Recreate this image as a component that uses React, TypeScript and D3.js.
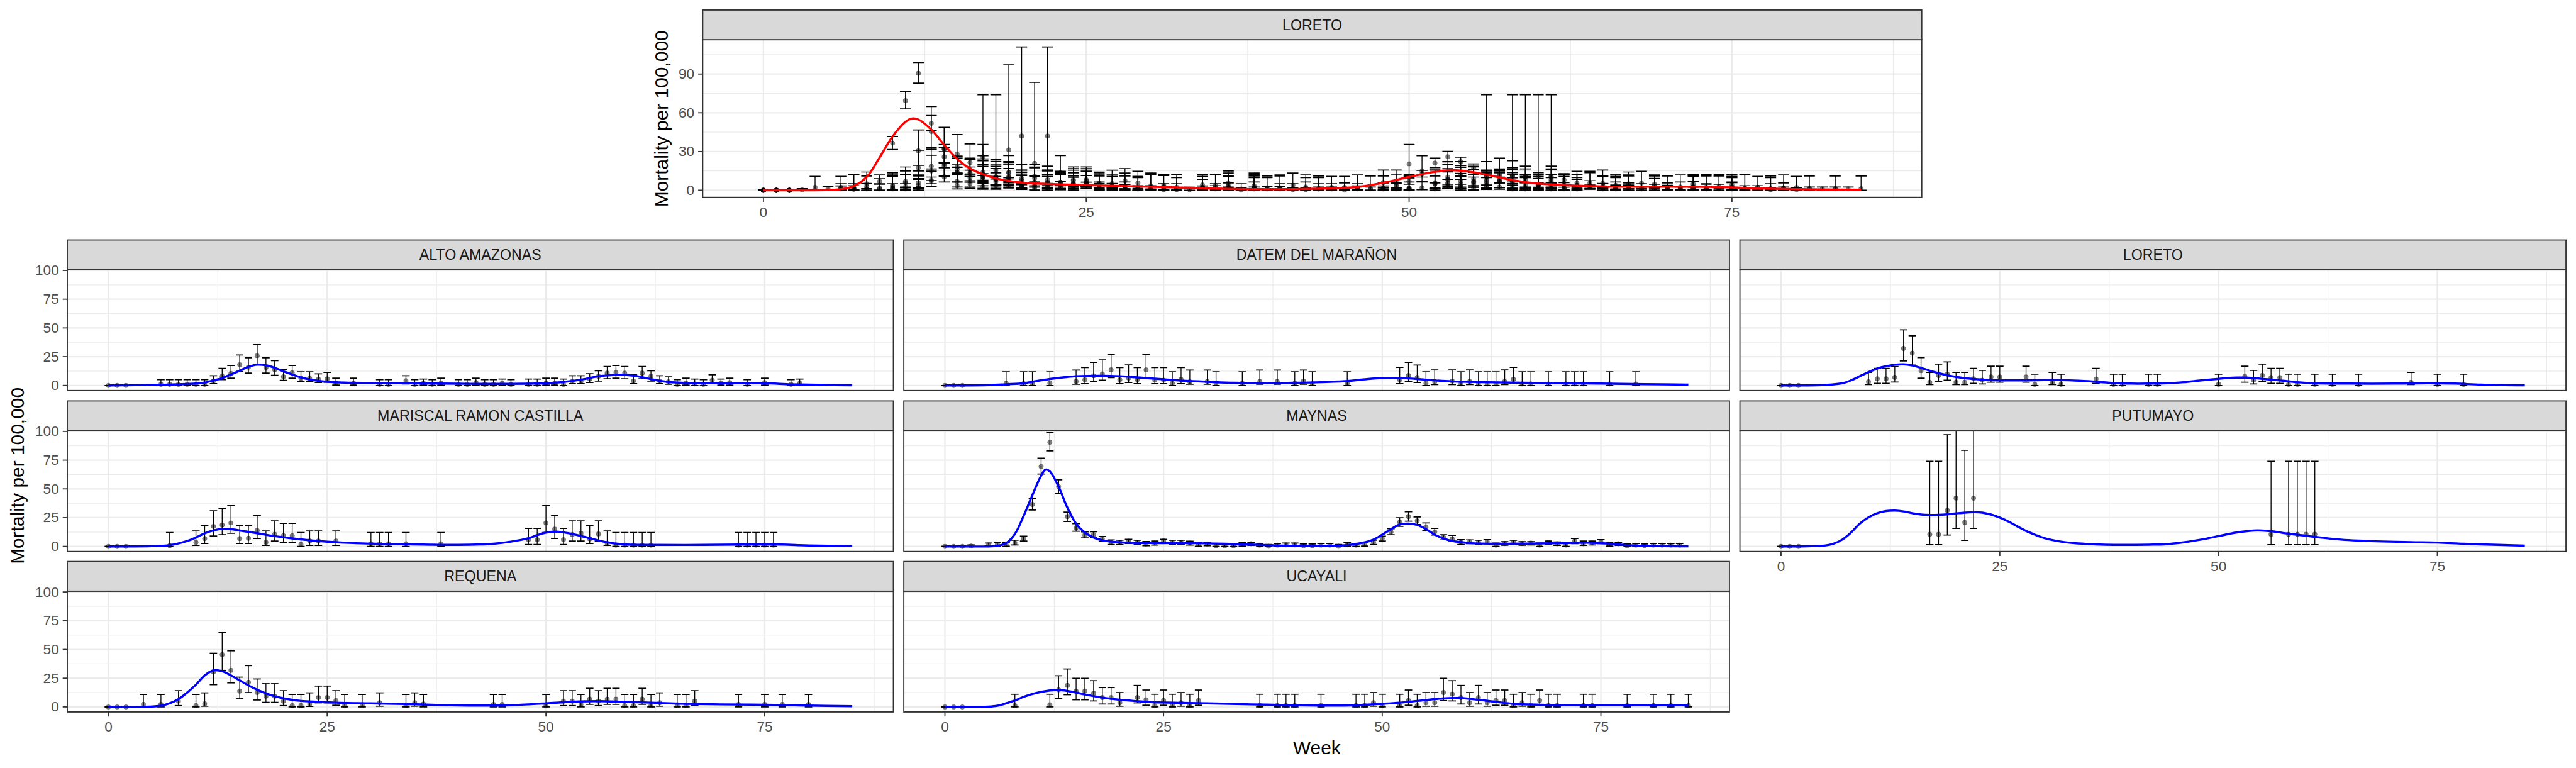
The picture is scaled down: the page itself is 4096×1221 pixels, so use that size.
import React from "react";
import * as d3 from "d3";

// [week, estimate, lower, upper]
type Pt = [number, number, number, number];
// [week, fitted]
type Fit = [number, number];

const altoAmazonasPts: Pt[] = [
  [0, 0, 0, 0], [1, 0, 0, 0], [2, 0, 0, 0],
  [6, 1, 0, 5], [7, 1, 0, 5], [8, 1, 0, 5], [9, 1, 0, 5], [10, 1, 0, 5], [11, 1, 0, 5],
  [12, 3.8, 1.6, 8.4], [13, 8, 5, 14.8], [14, 10.4, 6.4, 17.3], [15, 18, 12.2, 26.5],
  [16, 15.9, 10.7, 24], [17, 25.8, 18.5, 35.5], [18, 15.6, 10.7, 24], [19, 13.7, 8.8, 21.6],
  [20, 7.6, 4.4, 13.7], [21, 11, 6.4, 17.3], [22, 6.2, 3.4, 11.9], [23, 6.2, 3.4, 11.9],
  [24, 5.3, 2.5, 10], [25, 5.8, 2.8, 11.3], [26, 1.9, 0.4, 6.4], [28, 1.9, 0.4, 6.4],
  [31, 1, 0, 5], [32, 1, 0, 5], [34, 4.1, 1.3, 8.4], [35, 1, 0, 5], [36, 1.9, 0.4, 5.6],
  [37, 1, 0, 5], [38, 1.9, 0.4, 6.4], [40, 1, 0, 5], [41, 1, 0, 5], [42, 2.5, 0.4, 6.4],
  [43, 1, 0, 5], [44, 1, 0, 5], [45, 1.9, 0.4, 5.6], [46, 1, 0, 5], [48, 1, 0, 5.6],
  [49, 1, 0, 5.6], [50, 1.9, 0.4, 6.4], [51, 1.9, 0.4, 6.4], [52, 1, 0, 5.6],
  [53, 3.4, 1.6, 8.4], [54, 3.4, 1.6, 8.4], [55, 5.6, 2.5, 10.2], [56, 8, 3.8, 12.8],
  [57, 10.7, 5.8, 16.5], [58, 11.3, 6.4, 17.3], [59, 10.7, 5.8, 16.5], [60, 3.8, 1.6, 9.2],
  [61, 10.7, 5.8, 16.5], [62, 8, 3.8, 12.8], [63, 3.8, 1.6, 8.4], [64, 3.2, 1, 7.4],
  [65, 1, 0, 5], [66, 1.9, 0.4, 6.4], [67, 1.3, 0, 5.6], [68, 1, 0, 5], [69, 4.6, 1.9, 9.2],
  [70, 1.9, 0.4, 5.6], [71, 2.5, 0.4, 6.4], [73, 1, 0, 5], [75, 2.5, 0.4, 6.4],
  [78, 1, 0, 5], [79, 1.9, 0.4, 5.6],
];
const altoAmazonasFit: Fit[] = [
  [0, 0], [6, 0.5], [8, 1], [10, 1.7], [11, 2.5], [12, 4.4], [13, 6.4], [14, 9.5], [15, 12.8],
  [16, 16.2], [17, 18], [18, 17.5], [19, 15.3], [20, 12.2], [21, 9.5], [22, 7], [23, 5.2],
  [24, 4], [25, 3.2], [27, 2.5], [30, 2.2], [35, 1.9], [40, 1.5], [45, 1.4], [50, 1.9],
  [52, 3], [54, 5], [56, 8], [57, 8.7], [58, 9.2], [59, 9.2], [60, 8.5], [61, 7.2], [62, 5.5],
  [63, 4], [64, 3], [66, 2.2], [70, 1.9], [75, 1.9], [78, 1], [82, 0.4], [85, 0.1],
];

const datemPts: Pt[] = [
  [0, 0, 0, 0], [1, 0, 0, 0], [2, 0, 0, 0], [7, 1.9, 0, 11.9], [9, 1.6, 0, 11.9],
  [10, 1.6, 0, 11.9], [12, 1.9, 0, 11.9], [15, 3.4, 1, 13.3], [16, 5, 1.6, 15.5],
  [17, 8.4, 3.4, 20.1], [18, 10, 4.6, 22.3], [19, 13.5, 6.8, 26.8], [20, 5, 1.6, 15.5],
  [21, 6.4, 2.5, 17.9], [22, 5, 1.6, 15.5], [23, 13.5, 6.8, 26.8], [24, 4.6, 1.6, 15.5],
  [25, 4.6, 1.6, 15.5], [26, 1.9, 0, 11.9], [27, 5.2, 1.6, 15.5], [28, 3.2, 1, 13.3],
  [30, 3.4, 1, 13.3], [31, 1.9, 0, 11.9], [34, 1.9, 0, 11.9], [36, 3.4, 1, 13.3],
  [38, 3.4, 1, 13.3], [40, 1.9, 0, 11.9], [41, 3.8, 1, 13.3], [42, 1.6, 0, 11.9],
  [46, 1.9, 0, 11.9], [52, 5, 1.6, 15.6], [53, 8.6, 3.5, 20.1], [54, 7, 2.5, 17.7],
  [55, 1.9, 0, 11.9], [56, 3.2, 0.7, 13.5], [58, 3.8, 0.7, 13.5], [59, 1.3, 0, 11.9],
  [60, 3.4, 0.7, 13.5], [61, 1.3, 0, 11.9], [62, 1.3, 0, 11.9], [63, 1.3, 0, 11.9],
  [64, 3.4, 0.7, 13.5], [65, 5.3, 1.6, 15.6], [66, 1.3, 0, 11.9], [67, 1.3, 0, 11.9],
  [69, 1.3, 0, 11.9], [71, 1.3, 0, 11.9], [72, 1.3, 0, 11.9], [73, 1.3, 0, 11.9],
  [76, 1.3, 0, 11.9], [79, 1.3, 0, 11.9],
];
const datemFit: Fit[] = [
  [0, 0], [5, 0.3], [7, 1], [9, 1.9], [10, 3.2], [12, 5.6], [14, 7.4], [15, 8], [18, 8.4],
  [20, 8], [22, 7], [25, 5.3], [28, 3.8], [30, 3.2], [33, 2.3], [38, 2.2], [40, 2.3],
  [43, 2.8], [46, 3.8], [48, 5.3], [50, 6.4], [52, 6.5], [54, 5.6], [56, 4.4], [58, 3.5],
  [62, 2.8], [66, 2.4], [70, 1.9], [75, 1.6], [80, 1.1], [85, 0.7],
];

const loretoPts: Pt[] = [
  [0, 0, 0, 0], [1, 0, 0, 0], [2, 0, 0, 0], [10, 3.2, 0.7, 11.3], [11, 5.8, 1.9, 14.9],
  [12, 5.8, 1.9, 14.9], [13, 7, 2.9, 16.5], [14, 32.2, 21.3, 48.4], [15, 28, 17.7, 43.2],
  [16, 12.8, 6.4, 24.1], [17, 2.8, 0.7, 11.3], [18, 8.6, 3.6, 18.5], [19, 9.8, 4.6, 20.4],
  [20, 2.8, 0.7, 11.3], [21, 2.8, 0.7, 11.3], [22, 5.8, 1.9, 14.9], [23, 4.6, 1.3, 13.1],
  [24, 7.4, 2.8, 16.7], [25, 7.4, 2.8, 16.7], [28, 7.4, 2.8, 16.7], [29, 1, 0, 9.8],
  [31, 2.8, 0.7, 11.3], [32, 1, 0, 9.8], [36, 5.6, 1.9, 14.9], [38, 1, 0, 9.8],
  [39, 1, 0, 9.8], [42, 1, 0, 9.8], [43, 1, 0, 9.8], [50, 1, 0, 9.8], [53, 8, 2.8, 16.7],
  [54, 4.6, 1.3, 13.1], [55, 8.8, 3.6, 18.5], [56, 6.8, 1.9, 14.9], [57, 6.8, 1.9, 14.9],
  [58, 1, 0, 9.8], [59, 1, 0, 9.8], [61, 1, 0, 9.8], [63, 1, 0, 9.8], [66, 1, 0, 9.8],
  [72, 2.8, 0.7, 11.3], [75, 1, 0, 9.8], [78, 1, 0, 9.8],
];
const loretoFit: Fit[] = [
  [0, 0], [5, 0.4], [7, 1.9], [8, 4.4], [9, 8], [10, 11.6], [11, 14.7], [12, 16.7], [13, 18],
  [14, 18.3], [15, 17.3], [16, 15.3], [17, 12.8], [18, 10.7], [20, 7.4], [22, 5.6], [24, 4.6],
  [26, 4.4], [28, 4.4], [30, 4.6], [32, 4.6], [34, 4.1], [36, 3.2], [38, 2.2], [40, 1.6],
  [42, 1.6], [44, 1.9], [46, 2.8], [48, 4.4], [50, 5.8], [52, 6.8], [53, 6.8], [55, 5.8],
  [57, 4.4], [59, 2.8], [61, 1.9], [65, 1.6], [70, 1.6], [74, 1.9], [77, 1.6], [80, 0.7],
  [85, 0.1],
];

const mariscalPts: Pt[] = [
  [0, 0, 0, 0], [1, 0, 0, 0], [2, 0, 0, 0], [7, 0.7, 0, 12], [10, 3.5, 0.8, 13.4],
  [11, 6.8, 2.5, 18], [12, 17.4, 9, 31], [13, 18.6, 10.2, 33.1], [14, 20.4, 11.4, 35.5],
  [15, 6.8, 2.5, 18], [16, 7.1, 2.5, 18], [17, 13.8, 6.8, 26.7], [18, 3.5, 0.8, 13.4],
  [19, 10.5, 4.7, 22.2], [20, 9.2, 3.5, 20], [21, 9.2, 3.5, 20], [22, 1.7, 0, 12],
  [23, 4.7, 0.8, 13.4], [24, 4.7, 0.8, 13.4], [26, 4.7, 0.8, 13.4], [30, 2.3, 0, 12],
  [31, 2.3, 0, 12], [32, 2.3, 0, 12], [34, 2.3, 0, 12], [38, 2.3, 0, 12],
  [48, 5.9, 1.7, 15.6], [49, 5.9, 1.7, 15.6], [50, 20.4, 12, 35.5], [51, 15, 6.8, 26.7],
  [52, 5.9, 1.7, 15.6], [53, 10.2, 4.7, 22.2], [54, 11.4, 4.7, 22.2], [55, 6.5, 2.5, 18],
  [56, 10.8, 4.7, 22.2], [57, 2.5, 0.8, 13.4], [58, 1.1, 0, 12], [59, 1.1, 0, 12],
  [60, 1.1, 0, 12], [61, 1.1, 0, 12], [62, 1.1, 0, 12], [72, 1.1, 0, 12], [73, 1.1, 0, 12],
  [74, 1.1, 0, 12], [75, 1.1, 0, 12], [76, 1.1, 0, 12],
];
const mariscalFit: Fit[] = [
  [0, 0], [5, 0.2], [7, 1.1], [9, 4.7], [10, 7.7], [11, 11.4], [12, 13.8], [13, 15.2],
  [14, 15], [15, 13.8], [17, 11.4], [19, 8.9], [21, 6.9], [23, 5.3], [25, 4.1], [28, 2.9],
  [32, 2.1], [36, 1.6], [40, 1.3], [44, 2.3], [46, 4.1], [48, 7.1], [49, 9.8], [50, 12],
  [51, 12.8], [52, 12.2], [53, 10.8], [55, 7.1], [57, 3.5], [59, 1.7], [62, 1.3], [68, 1.3],
  [74, 1.7], [77, 1.6], [80, 0.8], [85, 0.2],
];

const maynasPts: Pt[] = [
  [0, 0, 0, 0], [1, 0, 0, 0], [2, 0, 0, 0], [3, 0.3, 0, 1.2], [5, 1.3, 0.5, 2.9],
  [6, 1.7, 0.1, 3.3], [7, 1.3, 0.1, 3.5], [8, 2.9, 1.3, 5.3], [9, 6.8, 4.7, 8.9],
  [10, 36.5, 31.6, 41.6], [11, 69.4, 63, 76.7], [12, 90.6, 83, 98.9], [13, 51.9, 46.1, 57.9],
  [14, 25.9, 21.6, 29.9], [15, 16.2, 13.2, 19.7], [16, 9.8, 7.4, 12.6], [17, 10.2, 7.7, 12.8],
  [18, 6.5, 4.4, 8.7], [19, 3.5, 1.7, 5.7], [20, 3.5, 1.7, 5.3], [21, 4.5, 2.5, 6.2],
  [22, 3.5, 1.7, 5.3], [23, 2.1, 0.5, 4.2], [24, 2.9, 1.1, 4.7], [25, 4.7, 2.9, 6.2],
  [26, 3.5, 1.7, 5.3], [27, 3.5, 1.7, 5.3], [28, 2.9, 1.1, 4.5], [29, 1.7, 0.1, 3.5],
  [30, 2.1, 0.5, 3.5], [31, 0.5, 0, 2.3], [32, 0.5, 0, 2.1], [33, 0.5, 0, 2.3],
  [34, 1.7, 0.3, 3.3], [35, 2.3, 0.8, 3.5], [36, 1.1, 0, 2.5], [37, 0.1, 0, 1.7],
  [38, 1.1, 0, 2.5], [39, 1.3, 0, 2.9], [40, 1.3, 0, 2.9], [41, 0.5, 0, 2.1], [42, 0.5, 0, 2.1],
  [43, 1.1, 0, 2.5], [44, 1.1, 0, 2.5], [45, 0.1, 0, 1.7], [46, 1.7, 0.3, 3.3],
  [47, 1.1, 0, 2.5], [48, 1.7, 0.3, 3.3], [49, 3.5, 1.7, 5.3], [50, 6.8, 4.7, 8.9],
  [51, 12.6, 10.2, 15.4], [52, 21, 17.4, 24.9], [53, 25.9, 21.9, 30.1], [54, 22.2, 19, 25.6],
  [55, 17, 13.8, 20.4], [56, 12.6, 9.8, 15.6], [57, 8, 5.7, 10.2], [58, 6.5, 4.1, 9.6],
  [59, 3.5, 1.7, 5.9], [60, 4.1, 2.3, 5.7], [61, 3.5, 1.7, 5.3], [62, 4.1, 2.3, 5.9],
  [63, 1.1, 0, 2.9], [64, 2.5, 1, 4.1], [65, 3.5, 1.7, 5.3], [66, 2.5, 1, 4.1],
  [67, 2.9, 1.3, 4.1], [68, 1.1, 0, 2.9], [69, 3.5, 1.7, 4.7], [70, 2.3, 0.8, 3.8],
  [71, 1.1, 0, 2.5], [72, 4.7, 2.3, 6.8], [73, 2.3, 0.8, 4.7], [74, 2.9, 1.3, 4.7],
  [75, 4.1, 2.3, 5.9], [76, 1.7, 0.3, 3.5], [77, 2.3, 0.8, 3.5], [78, 0.5, 0, 2.1],
  [79, 1.1, 0, 2.5], [80, 0.5, 0, 2.1], [81, 1.1, 0, 2.5], [82, 1.1, 0, 2.5],
  [83, 1.1, 0, 2.5], [84, 1.1, 0, 2.5],
];
const maynasFit: Fit[] = [
  [0, 0], [5, 0], [6, 0.5], [7, 2.9], [8, 10.8], [9, 26.5], [10, 44.6], [11, 61.5],
  [11.5, 66.7], [12, 65.2], [13, 51.9], [14, 33.7], [15, 19.8], [16, 12], [17, 7.7],
  [18, 5.3], [20, 3.5], [24, 2.9], [28, 2.9], [32, 2.3], [36, 1.3], [40, 0.5], [44, 0.5],
  [46, 1.1], [48, 3.5], [49, 5.9], [50, 10.2], [51, 15], [52, 19], [53, 19.8], [54, 18.6],
  [55, 15], [56, 10.2], [57, 6.9], [58, 4.7], [60, 2.9], [64, 2.3], [68, 2.5], [72, 3.1],
  [74, 3.1], [76, 2.3], [78, 1.1], [80, 0.5], [85, 0.1],
];

const putumayoPts: Pt[] = [
  [0, 0, 0, 0], [1, 0, 0, 0], [2, 0, 0, 0], [17, 10.5, 1.5, 74], [18, 10.5, 1.5, 74],
  [19, 31.3, 9.9, 97.1], [20, 42, 15.6, 111], [21, 20.8, 5.2, 83.6], [22, 42, 15.6, 111],
  [56, 10.5, 1.5, 74], [58, 10.5, 1.5, 74], [59, 10.5, 1.5, 74], [60, 10.5, 1.5, 74],
  [61, 10.5, 1.5, 74],
];
const putumayoFit: Fit[] = [
  [0, 0], [3, 0.1], [5, 0.7], [6, 2.3], [7, 5.9], [8, 12], [9, 19.8], [10, 25.3], [11, 28.9],
  [12, 30.7], [13, 31.1], [14, 30.4], [15, 28.9], [16, 27.7], [17, 27.3], [18, 27.4],
  [19, 27.9], [20, 28.7], [21, 29.4], [22, 29.7], [23, 29.4], [24, 27.7], [25, 25],
  [26, 21.6], [27, 17.4], [28, 13.4], [29, 10.2], [30, 7.4], [32, 4.1], [34, 2.5], [36, 1.7],
  [38, 1.3], [40, 1.3], [42, 1.5], [44, 1.9], [46, 3.5], [48, 5.9], [50, 8.9], [52, 12],
  [54, 13.8], [55, 13.8], [56, 13.2], [58, 11], [60, 9.2], [62, 7.4], [64, 5.9], [66, 5],
  [68, 4.4], [72, 3.7], [75, 3.3], [78, 2.3], [82, 1.3], [85, 0.6],
];

const requenaPts: Pt[] = [
  [0, 0, 0, 0], [1, 0, 0, 0], [2, 0, 0, 0], [4, 2.2, 0, 10.8], [6, 2.2, 0, 10.8],
  [8, 5, 1.2, 14.1], [10, 1.2, 0, 10.8], [11, 2.7, 0.6, 12.2], [12, 30.5, 19.3, 46.7],
  [13, 45.5, 31.8, 64.8], [14, 31.8, 20.9, 48.8], [15, 13.7, 7.1, 25.9], [16, 21.4, 12.5, 35.9],
  [17, 12.5, 6, 24.3], [18, 9.3, 4, 20.2], [19, 9.3, 4, 20.2], [20, 5, 1.2, 14.1],
  [21, 1.2, 0, 10.8], [22, 1.2, 0, 10.8], [23, 2.5, 0.4, 12.2], [24, 8.1, 3.5, 18.1],
  [25, 8.1, 3.5, 18.1], [26, 5.6, 1.5, 14.1], [27, 1.2, 0, 10.8], [29, 1.2, 0, 10.8],
  [31, 3.7, 0.6, 12.2], [34, 1.2, 0, 10.8], [35, 3.7, 0.6, 12.2], [36, 2.5, 0, 10.8],
  [44, 2.2, 0, 10.8], [45, 2.2, 0, 10.8], [50, 1.2, 0, 10.8], [52, 5, 1.2, 14.1],
  [53, 5, 1.2, 14.1], [54, 2.2, 0, 10.8], [55, 6.8, 2.2, 16.2], [56, 5, 1.2, 14.1],
  [57, 6.8, 2.2, 16.2], [58, 6.8, 2.2, 16.2], [59, 1.2, 0, 10.8], [60, 1.2, 0, 10.8],
  [61, 6.8, 2.2, 16.2], [62, 1.2, 0, 10.8], [63, 3.7, 0.6, 12.2], [65, 1.2, 0, 10.8],
  [66, 1.2, 0, 10.8], [67, 5, 1.2, 14.1], [72, 2.2, 0, 10.8], [75, 2.2, 0, 10.8],
  [77, 2.2, 0, 10.8], [80, 2.2, 0, 10.8],
];
const requenaFit: Fit[] = [
  [0, 0], [4, 0], [6, 1], [7, 3.1], [8, 6.8], [9, 12.5], [10, 19.3], [11, 27.4], [12, 31.8],
  [13, 31.1], [14, 27.4], [15, 23], [16, 18.7], [17, 14.9], [18, 11.8], [19, 9.3], [20, 7.5],
  [22, 5.2], [24, 4.4], [26, 3.7], [30, 3.1], [34, 2.5], [38, 1.6], [42, 1.2], [46, 1.5],
  [50, 3.1], [53, 4.4], [56, 5], [59, 4.4], [62, 3.7], [66, 2.7], [70, 2.2], [75, 1.9],
  [80, 1.2], [85, 0.6],
];

const ucayaliPts: Pt[] = [
  [0, 0, 0, 0], [1, 0, 0, 0], [2, 0, 0, 0], [8, 1.2, 0, 11], [12, 1.9, 0, 11],
  [13, 14.9, 7.5, 27.1], [14, 18.7, 10.6, 33], [15, 13.7, 6.2, 24.9], [16, 13.7, 6.2, 24.9],
  [17, 11.8, 5.2, 22.8], [18, 8.1, 2.5, 16.8], [19, 8.1, 2.5, 16.8], [20, 3.7, 0.6, 12.5],
  [22, 8.1, 3.5, 18.7], [23, 6.2, 1.5, 14.7], [24, 1.2, 0, 11], [25, 5.6, 1.5, 14.7],
  [26, 1.2, 0, 11], [27, 3.7, 0.6, 12.5], [28, 1.2, 0, 11], [29, 5.6, 1.5, 14.7],
  [36, 1.2, 0, 11], [38, 1.2, 0, 11], [39, 1.2, 0, 11], [40, 1.2, 0, 11], [43, 1.2, 0, 11],
  [47, 1.2, 0, 11], [48, 1.2, 0, 11], [49, 3.7, 0.6, 12.5], [50, 1.2, 0, 11],
  [52, 1.2, 0, 11], [53, 5.6, 1.5, 14.7], [54, 1.2, 0, 11], [55, 3.7, 0.6, 12.5],
  [56, 3.7, 0.6, 12.5], [57, 12.5, 5.6, 24.9], [58, 11.2, 5.2, 22.8], [59, 8.1, 2.5, 18.7],
  [60, 3.7, 0.6, 12.5], [61, 8.1, 2.5, 18.7], [62, 3.7, 0.6, 12.5], [63, 5.6, 1.5, 14.7],
  [64, 5.6, 1.5, 14.7], [65, 1.2, 0, 11], [66, 3.7, 0.6, 12.5], [67, 1.2, 0, 11],
  [68, 5.6, 1.5, 14.7], [69, 1.2, 0, 11], [70, 1.2, 0, 11], [73, 1.2, 0, 11],
  [74, 1.2, 0, 11], [78, 1.2, 0, 11], [81, 1.2, 0, 11], [83, 1.2, 0, 11], [85, 1.2, 0, 11],
];
const ucayaliFit: Fit[] = [
  [0, 0], [5, 0.2], [6, 1], [7, 3.1], [8, 5.6], [9, 8.7], [10, 11.2], [11, 13.1], [12, 14.3],
  [13, 14.7], [14, 13.9], [15, 12.5], [16, 10.8], [18, 8.1], [20, 6.2], [22, 5], [24, 4],
  [27, 3.5], [30, 3.1], [35, 2.2], [40, 1.5], [44, 1.2], [47, 1.5], [50, 2.7], [52, 3.7],
  [54, 5.2], [56, 6.8], [58, 7.7], [59, 7.7], [61, 6.2], [63, 4.4], [65, 2.7], [68, 1.9],
  [72, 1.6], [78, 1.5], [85, 1.5],
];

// region-level fit (top panel)
const regionFit: Fit[] = [
  [0, 0], [4, 0], [5, 0.2], [6, 0.8], [7, 3.2], [8, 10.3], [9, 25.4], [10, 41.6], [11, 53],
  [11.5, 55.5], [12, 54.8], [13, 47], [14, 35.1], [15, 24.3], [16, 16.8], [17, 12.4],
  [18, 9.2], [20, 5.9], [22, 4.9], [25, 4], [28, 3.2], [32, 2.2], [36, 1.1], [40, 0.8],
  [44, 1.6], [46, 2.5], [48, 5.8], [50, 10.3], [52, 14.3], [53, 15.5], [54, 15.2], [56, 12.1],
  [58, 7.8], [60, 5.2], [62, 4], [65, 2.9], [68, 2.7], [72, 2.7], [75, 2.2], [77, 1.4],
  [80, 0.8], [85, 0.3],
];

const provinceNames = [
  "ALTO AMAZONAS", "DATEM DEL MARAÑON", "LORETO",
  "MARISCAL RAMON CASTILLA", "MAYNAS", "PUTUMAYO",
  "REQUENA", "UCAYALI",
];
const provincePts = [altoAmazonasPts, datemPts, loretoPts, mariscalPts, maynasPts, putumayoPts, requenaPts, ucayaliPts];
const provinceFits = [altoAmazonasFit, datemFit, loretoFit, mariscalFit, maynasFit, putumayoFit, requenaFit, ucayaliFit];

const xTicks = [0, 25, 50, 75];
const xMinor = [12.5, 37.5, 62.5, 87.5];
const yTicks = [0, 25, 50, 75, 100];
const yMinor = [12.5, 37.5, 62.5, 87.5];
const yTicksTop = [0, 30, 60, 90];
const yMinorTop = [15, 45, 75, 105];

// drawing is done in the reference's pixel space and scaled down by the viewBox
const W = 6162;
const H = 1837;
const FONT = "'Liberation Sans', Arial, Helvetica, sans-serif";
const STRIP_H = 71;
const PANEL_H = 289;
const colX = [[161, 2137], [2162, 4137], [4162, 6138]];
const rowTop = [574, 959, 1343];

type PanelProps = {
  id: string;
  title: string;
  x0: number;
  x1: number;
  top: number; // strip top
  panelH: number;
  pts: Pt[];
  fit: Fit[];
  color: string;
  yDomain: [number, number];
  yT: number[];
  yM: number[];
  showX: boolean;
  showY: boolean;
};

function Panel(p: PanelProps) {
  const pTop = p.top + STRIP_H;
  const pBot = pTop + p.panelH;
  const x = d3.scaleLinear().domain([-4.7, 89.7]).range([p.x0, p.x1]);
  const y = d3.scaleLinear().domain(p.yDomain).range([pBot, pTop]);
  const line = d3
    .line<Fit>()
    .x((d) => x(d[0]))
    .y((d) => y(d[1]))
    .curve(d3.curveCatmullRom.alpha(0.5));
  const capHalf = (x(0.85) - x(0)) / 2;

  return (
    <g>
      <defs>
        <clipPath id={p.id}>
          <rect x={p.x0} y={pTop} width={p.x1 - p.x0} height={p.panelH} />
        </clipPath>
      </defs>
      <rect x={p.x0} y={pTop} width={p.x1 - p.x0} height={p.panelH} fill="#fff" />
      {/* grid */}
      {p.yM.map((v) => (
        <line key={"ym" + v} x1={p.x0} x2={p.x1} y1={y(v)} y2={y(v)} stroke="#EBEBEB" strokeWidth={1.8} />
      ))}
      {xMinor.map((v) => (
        <line key={"xm" + v} x1={x(v)} x2={x(v)} y1={pTop} y2={pBot} stroke="#EBEBEB" strokeWidth={1.8} />
      ))}
      {p.yT.map((v) => (
        <line key={"yt" + v} x1={p.x0} x2={p.x1} y1={y(v)} y2={y(v)} stroke="#EBEBEB" strokeWidth={3.4} />
      ))}
      {xTicks.map((v) => (
        <line key={"xt" + v} x1={x(v)} x2={x(v)} y1={pTop} y2={pBot} stroke="#EBEBEB" strokeWidth={3.4} />
      ))}
      <g clipPath={`url(#${p.id})`}>
        {p.pts.map((d, i) => (
          <g key={"e" + i} stroke="#000" strokeWidth={2} fill="none">
            <line x1={x(d[0])} x2={x(d[0])} y1={y(d[2])} y2={y(d[3])} />
            <line x1={x(d[0]) - capHalf} x2={x(d[0]) + capHalf} y1={y(d[2])} y2={y(d[2])} strokeWidth={2.6} />
            <line x1={x(d[0]) - capHalf} x2={x(d[0]) + capHalf} y1={y(d[3])} y2={y(d[3])} strokeWidth={2.6} />
          </g>
        ))}
        {p.pts.map((d, i) => (
          <circle key={"p" + i} cx={x(d[0])} cy={y(d[1])} r={5.6} fill="#000" fillOpacity={0.5} stroke="#000" strokeOpacity={0.35} strokeWidth={1} />
        ))}
        <path d={line(p.fit) || ""} fill="none" stroke={p.color} strokeWidth={5.2} strokeLinejoin="round" />
      </g>
      <rect x={p.x0} y={pTop} width={p.x1 - p.x0} height={p.panelH} fill="none" stroke="#333333" strokeWidth={2.8} />
      {/* strip */}
      <rect x={p.x0} y={p.top} width={p.x1 - p.x0} height={STRIP_H} fill="#D9D9D9" stroke="#333333" strokeWidth={2.8} />
      <text
        x={(p.x0 + p.x1) / 2}
        y={p.top + STRIP_H / 2}
        textAnchor="middle"
        dominantBaseline="central"
        fontFamily={FONT}
        fontSize={35}
        fill="#1A1A1A"
      >
        {p.title}
      </text>
      {p.showY &&
        p.yT.map((v) => (
          <g key={"ya" + v}>
            <line x1={p.x0 - 11} x2={p.x0} y1={y(v)} y2={y(v)} stroke="#333333" strokeWidth={2.8} />
            <text
              x={p.x0 - 20}
              y={y(v)}
              textAnchor="end"
              dominantBaseline="central"
              fontFamily={FONT}
              fontSize={34}
              fill="#4D4D4D"
            >
              {v}
            </text>
          </g>
        ))}
      {p.showX &&
        xTicks.map((v) => (
          <g key={"xa" + v}>
            <line x1={x(v)} x2={x(v)} y1={pBot} y2={pBot + 11} stroke="#333333" strokeWidth={2.8} />
            <text
              x={x(v)}
              y={pBot + 36}
              textAnchor="middle"
              dominantBaseline="central"
              fontFamily={FONT}
              fontSize={34}
              fill="#4D4D4D"
            >
              {v}
            </text>
          </g>
        ))}
    </g>
  );
}

export default function App() {
  const allPts: Pt[] = provincePts.flat();
  return (
    <svg
      width={4096}
      height={1221}
      viewBox={`0 0 ${W} ${H}`}
      preserveAspectRatio="none"
      style={{ position: "absolute", left: 0, top: 0, display: "block", background: "#fff" }}
    >
      <rect x={0} y={0} width={W} height={H} fill="#fff" />
      <Panel
        id="clip-top"
        title="LORETO"
        x0={1681}
        x1={4597}
        top={24}
        panelH={377}
        pts={allPts}
        fit={regionFit}
        color="#FF0000"
        yDomain={[-5.5, 116.6]}
        yT={yTicksTop}
        yM={yMinorTop}
        showX={true}
        showY={true}
      />
      <text
        transform={`translate(1582, 284) rotate(-90)`}
        textAnchor="middle"
        dominantBaseline="central"
        fontFamily={FONT}
        fontSize={45}
        fill="#000"
      >
        Mortality per 100,000
      </text>

      {provinceNames.map((name, i) => {
        const r = Math.floor(i / 3);
        const c = i % 3;
        const below = i + 3 < provinceNames.length;
        return (
          <Panel
            key={name}
            id={"clip-" + i}
            title={name}
            x0={colX[c][0]}
            x1={colX[c][1]}
            top={rowTop[r]}
            panelH={PANEL_H}
            pts={provincePts[i]}
            fit={provinceFits[i]}
            color="#0000FF"
            yDomain={[-4.4, 100.7]}
            yT={yTicks}
            yM={yMinor}
            showX={!below}
            showY={c === 0}
          />
        );
      })}
      <text
        transform={`translate(41, 1138) rotate(-90)`}
        textAnchor="middle"
        dominantBaseline="central"
        fontFamily={FONT}
        fontSize={45}
        fill="#000"
      >
        Mortality per 100,000
      </text>
      <text
        x={3150}
        y={1788}
        textAnchor="middle"
        dominantBaseline="central"
        fontFamily={FONT}
        fontSize={45}
        fill="#000"
      >
        Week
      </text>
    </svg>
  );
}
